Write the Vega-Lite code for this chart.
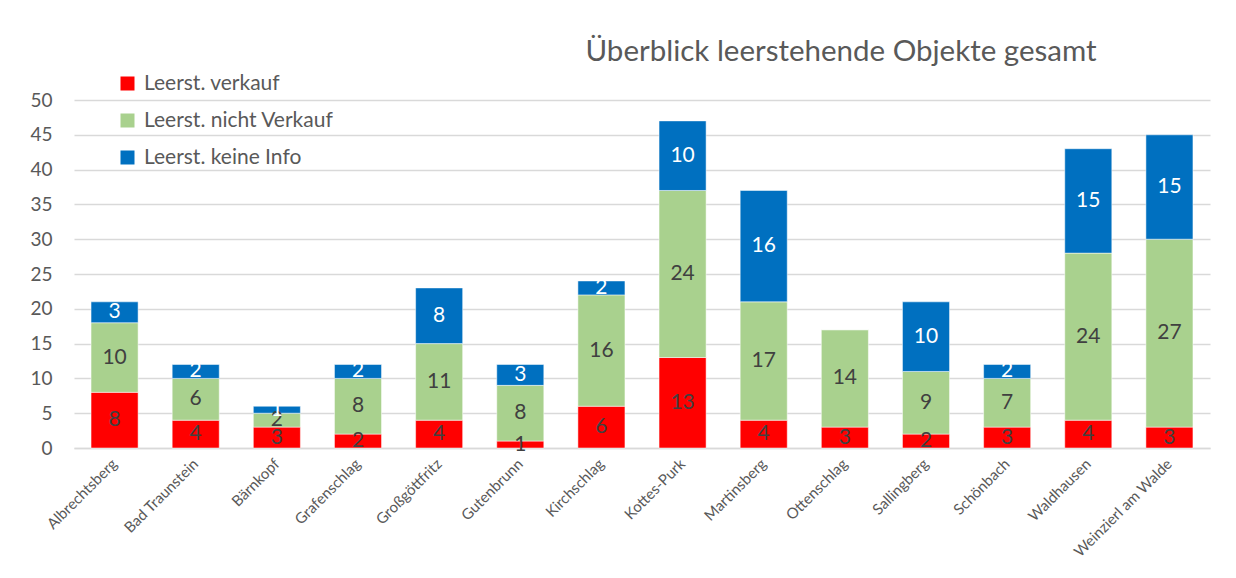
{
  "$schema": "https://vega.github.io/schema/vega-lite/v6.json",
  "width": 1136,
  "height": 348,
  "autosize": {"type": "none"},
  "padding": {"left": 74, "top": 100, "right": 26, "bottom": 130},
  "background": "white",
  "config": {
    "view": {"stroke": null},
    "font": "Lato",
    "axis": {"labelFont": "Lato", "labelColor": "#595959", "titleFont": "Lato"},
    "axisY": {"labelOverlap": false, "labelFontSize": 19, "labelPadding": 22, "ticks": false, "domain": false, "gridColor": "#D9D9D9", "gridWidth": 1.5, "title": null}
  },
  "title": {
    "text": "Überblick leerstehende Objekte gesamt",
    "font": "Lato",
    "fontSize": 29.5,
    "fontWeight": "normal",
    "color": "#595959",
    "anchor": "middle",
    "dx": 199,
    "offset": 6
  },
  "data": {
    "values": [
      {"Gemeinde": "Albrechtsberg", "Kategorie": "Leerst. verkauf", "ord": 1, "Wert": 8},
      {"Gemeinde": "Albrechtsberg", "Kategorie": "Leerst. nicht Verkauf", "ord": 2, "Wert": 10},
      {"Gemeinde": "Albrechtsberg", "Kategorie": "Leerst. keine Info", "ord": 3, "Wert": 3},
      {"Gemeinde": "Bad Traunstein", "Kategorie": "Leerst. verkauf", "ord": 1, "Wert": 4},
      {"Gemeinde": "Bad Traunstein", "Kategorie": "Leerst. nicht Verkauf", "ord": 2, "Wert": 6},
      {"Gemeinde": "Bad Traunstein", "Kategorie": "Leerst. keine Info", "ord": 3, "Wert": 2},
      {"Gemeinde": "Bärnkopf", "Kategorie": "Leerst. verkauf", "ord": 1, "Wert": 3},
      {"Gemeinde": "Bärnkopf", "Kategorie": "Leerst. nicht Verkauf", "ord": 2, "Wert": 2},
      {"Gemeinde": "Bärnkopf", "Kategorie": "Leerst. keine Info", "ord": 3, "Wert": 1},
      {"Gemeinde": "Grafenschlag", "Kategorie": "Leerst. verkauf", "ord": 1, "Wert": 2},
      {"Gemeinde": "Grafenschlag", "Kategorie": "Leerst. nicht Verkauf", "ord": 2, "Wert": 8},
      {"Gemeinde": "Grafenschlag", "Kategorie": "Leerst. keine Info", "ord": 3, "Wert": 2},
      {"Gemeinde": "Großgöttfritz", "Kategorie": "Leerst. verkauf", "ord": 1, "Wert": 4},
      {"Gemeinde": "Großgöttfritz", "Kategorie": "Leerst. nicht Verkauf", "ord": 2, "Wert": 11},
      {"Gemeinde": "Großgöttfritz", "Kategorie": "Leerst. keine Info", "ord": 3, "Wert": 8},
      {"Gemeinde": "Gutenbrunn", "Kategorie": "Leerst. verkauf", "ord": 1, "Wert": 1},
      {"Gemeinde": "Gutenbrunn", "Kategorie": "Leerst. nicht Verkauf", "ord": 2, "Wert": 8},
      {"Gemeinde": "Gutenbrunn", "Kategorie": "Leerst. keine Info", "ord": 3, "Wert": 3},
      {"Gemeinde": "Kirchschlag", "Kategorie": "Leerst. verkauf", "ord": 1, "Wert": 6},
      {"Gemeinde": "Kirchschlag", "Kategorie": "Leerst. nicht Verkauf", "ord": 2, "Wert": 16},
      {"Gemeinde": "Kirchschlag", "Kategorie": "Leerst. keine Info", "ord": 3, "Wert": 2},
      {"Gemeinde": "Kottes-Purk", "Kategorie": "Leerst. verkauf", "ord": 1, "Wert": 13},
      {"Gemeinde": "Kottes-Purk", "Kategorie": "Leerst. nicht Verkauf", "ord": 2, "Wert": 24},
      {"Gemeinde": "Kottes-Purk", "Kategorie": "Leerst. keine Info", "ord": 3, "Wert": 10},
      {"Gemeinde": "Martinsberg", "Kategorie": "Leerst. verkauf", "ord": 1, "Wert": 4},
      {"Gemeinde": "Martinsberg", "Kategorie": "Leerst. nicht Verkauf", "ord": 2, "Wert": 17},
      {"Gemeinde": "Martinsberg", "Kategorie": "Leerst. keine Info", "ord": 3, "Wert": 16},
      {"Gemeinde": "Ottenschlag", "Kategorie": "Leerst. verkauf", "ord": 1, "Wert": 3},
      {"Gemeinde": "Ottenschlag", "Kategorie": "Leerst. nicht Verkauf", "ord": 2, "Wert": 14},
      {"Gemeinde": "Ottenschlag", "Kategorie": "Leerst. keine Info", "ord": 3, "Wert": 0},
      {"Gemeinde": "Sallingberg", "Kategorie": "Leerst. verkauf", "ord": 1, "Wert": 2},
      {"Gemeinde": "Sallingberg", "Kategorie": "Leerst. nicht Verkauf", "ord": 2, "Wert": 9},
      {"Gemeinde": "Sallingberg", "Kategorie": "Leerst. keine Info", "ord": 3, "Wert": 10},
      {"Gemeinde": "Schönbach", "Kategorie": "Leerst. verkauf", "ord": 1, "Wert": 3},
      {"Gemeinde": "Schönbach", "Kategorie": "Leerst. nicht Verkauf", "ord": 2, "Wert": 7},
      {"Gemeinde": "Schönbach", "Kategorie": "Leerst. keine Info", "ord": 3, "Wert": 2},
      {"Gemeinde": "Waldhausen", "Kategorie": "Leerst. verkauf", "ord": 1, "Wert": 4},
      {"Gemeinde": "Waldhausen", "Kategorie": "Leerst. nicht Verkauf", "ord": 2, "Wert": 24},
      {"Gemeinde": "Waldhausen", "Kategorie": "Leerst. keine Info", "ord": 3, "Wert": 15},
      {"Gemeinde": "Weinzierl am Walde", "Kategorie": "Leerst. verkauf", "ord": 1, "Wert": 3},
      {"Gemeinde": "Weinzierl am Walde", "Kategorie": "Leerst. nicht Verkauf", "ord": 2, "Wert": 27},
      {"Gemeinde": "Weinzierl am Walde", "Kategorie": "Leerst. keine Info", "ord": 3, "Wert": 15}
    ]
  },
  "transform": [
    {"stack": "Wert", "groupby": ["Gemeinde"], "sort": [{"field": "ord", "order": "ascending"}], "as": ["y0", "y1"]},
    {"calculate": "(datum.y0 + datum.y1) / 2", "as": "mid"}
  ],
  "encoding": {
    "x": {
      "field": "Gemeinde",
      "type": "nominal",
      "sort": null,
      "scale": {"paddingInner": 0.42, "paddingOuter": 0.21},
      "axis": {
        "title": null,
        "labelAngle": -45,
        "labelAlign": "right",
        "labelBaseline": "middle",
        "labelFontSize": 15,
        "labelPadding": 13,
        "ticks": false,
        "domainColor": "#D9D9D9",
        "domainWidth": 1.5
      }
    }
  },
  "layer": [
    {
      "mark": {"type": "bar", "stroke": "white", "strokeWidth": 0.5},
      "encoding": {
        "y": {
          "field": "y1",
          "type": "quantitative",
          "scale": {"domain": [0, 50], "nice": false},
          "axis": {"values": [0, 5, 10, 15, 20, 25, 30, 35, 40, 45, 50]}
        },
        "y2": {"field": "y0"},
        "color": {
          "field": "Kategorie",
          "type": "nominal",
          "scale": {
            "domain": ["Leerst. verkauf", "Leerst. nicht Verkauf", "Leerst. keine Info"],
            "range": ["#FF0000", "#A9D18E", "#0070C0"]
          },
          "legend": {
            "title": null,
            "orient": "none",
            "legendX": 43,
            "legendY": -27,
            "symbolType": "square",
            "symbolSize": 196,
            "symbolStrokeWidth": 0,
            "labelFont": "Lato",
            "labelFontSize": 21,
            "labelColor": "#595959",
            "labelLimit": 500,
            "labelOffset": 6,
            "rowPadding": 15
          }
        }
      }
    },
    {
      "transform": [{"filter": "datum.Wert > 0"}],
      "mark": {"type": "text", "fontSize": 21, "font": "Lato", "baseline": "middle"},
      "encoding": {
        "y": {
          "field": "mid",
          "type": "quantitative",
          "axis": {"values": [0, 5, 10, 15, 20, 25, 30, 35, 40, 45, 50]}
        },
        "text": {"field": "Wert", "type": "quantitative"},
        "color": {
          "condition": {"test": "datum.Kategorie === 'Leerst. keine Info'", "value": "white"},
          "value": "#404040"
        }
      }
    }
  ]
}
